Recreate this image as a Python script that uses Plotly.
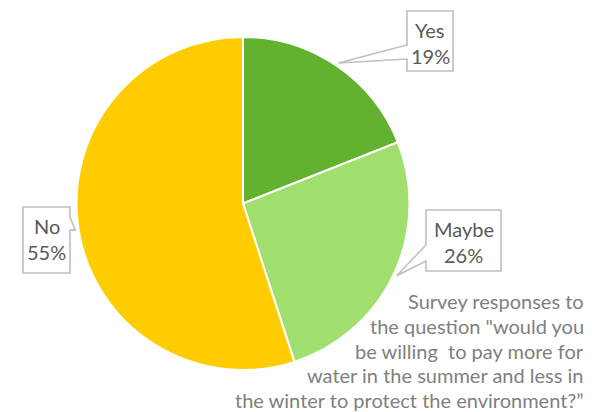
import math
import plotly.graph_objects as go

# Survey answers and their shares (percent)
labels = ["Yes", "Maybe", "No"]
values = [19, 26, 55]
colors = ["#62B22F", "#A0DE6E", "#FFCC00"]

caption_lines = [
    "Survey responses to",
    "the question \"would you",
    "be willing  to pay more for",
    "water in the summer and less in",
    "the winter to protect the environment?\u201d",
]

W, H = 592, 412
cx, cy, r = 243, 203.5, 166.5          # pie centre and radius (pixels)
FONT = "Lato"
TEXT_GREY = "#595959"
BOX_GREY = "#BFBFBF"

# callout box for each slice: box extents, side of tail, tail base (pixels)
callouts = {
    "Yes":   dict(box=(407, 11, 453, 71),   side="left",  base=(45, 59)),
    "Maybe": dict(box=(426, 210, 501, 271), side="left",  base=(245, 261)),
    "No":    dict(box=(23, 207, 70, 273),   side="right", base=(217, 230)),
}


def px(x, y):
    return f"{x / W:.5f},{1 - y / H:.5f}"


fig = go.Figure()
fig.add_trace(go.Pie(
    labels=labels, values=values, sort=False,
    direction="clockwise", rotation=0,
    marker=dict(colors=colors, line=dict(color="white", width=2)),
    textinfo="none", hoverinfo="label+percent", showlegend=False,
    domain=dict(x=[(cx - r) / W, (cx + r) / W],
                y=[(H - cy - r) / H, (H - cy + r) / H]),
))

total = sum(values)
cum = 0
shapes, annotations = [], []
for lab, val in zip(labels, values):
    mid = math.radians(360 * (cum + val / 2) / total)
    cum += val
    rt = r * 1.02
    tx, ty = cx + rt * math.sin(mid), cy - rt * math.cos(mid)
    c = callouts[lab]
    x0, y0, x1, y1 = c["box"]
    b1, b2 = c["base"]
    if c["side"] == "left":
        pts = [(x0, y0), (x1, y0), (x1, y1), (x0, y1), (x0, b2), (tx, ty), (x0, b1)]
    else:
        pts = [(x0, y0), (x1, y0), (x1, b1), (tx, ty), (x1, b2), (x1, y1), (x0, y1)]
    path = "M " + " L ".join(px(*p) for p in pts) + " Z"
    shapes.append(dict(type="path", path=path, xref="paper", yref="paper",
                       fillcolor="white", line=dict(color=BOX_GREY, width=1.6)))
    xm = (x0 + x1) / 2
    pct = f"{round(100 * val / total)}%"
    for txt, yy in ((lab, y0 + 19), (pct, y0 + 45)):
        annotations.append(dict(text=txt, x=xm / W, y=1 - yy / H, xref="paper", yref="paper",
                                showarrow=False, xanchor="center", yanchor="middle",
                                font=dict(family=FONT, size=20, color=TEXT_GREY)))

for i, line in enumerate(caption_lines):
    yy = 301 + i * 24.8
    annotations.append(dict(text=line, x=586 / W, y=1 - yy / H, xref="paper", yref="paper",
                            showarrow=False, xanchor="right", yanchor="middle",
                            font=dict(family=FONT, size=20, color="#808080")))

fig.update_layout(
    width=W, height=H, margin=dict(l=0, r=0, t=0, b=0),
    paper_bgcolor="white", plot_bgcolor="white",
    shapes=shapes, annotations=annotations,
)
fig.write_html("out.html")
